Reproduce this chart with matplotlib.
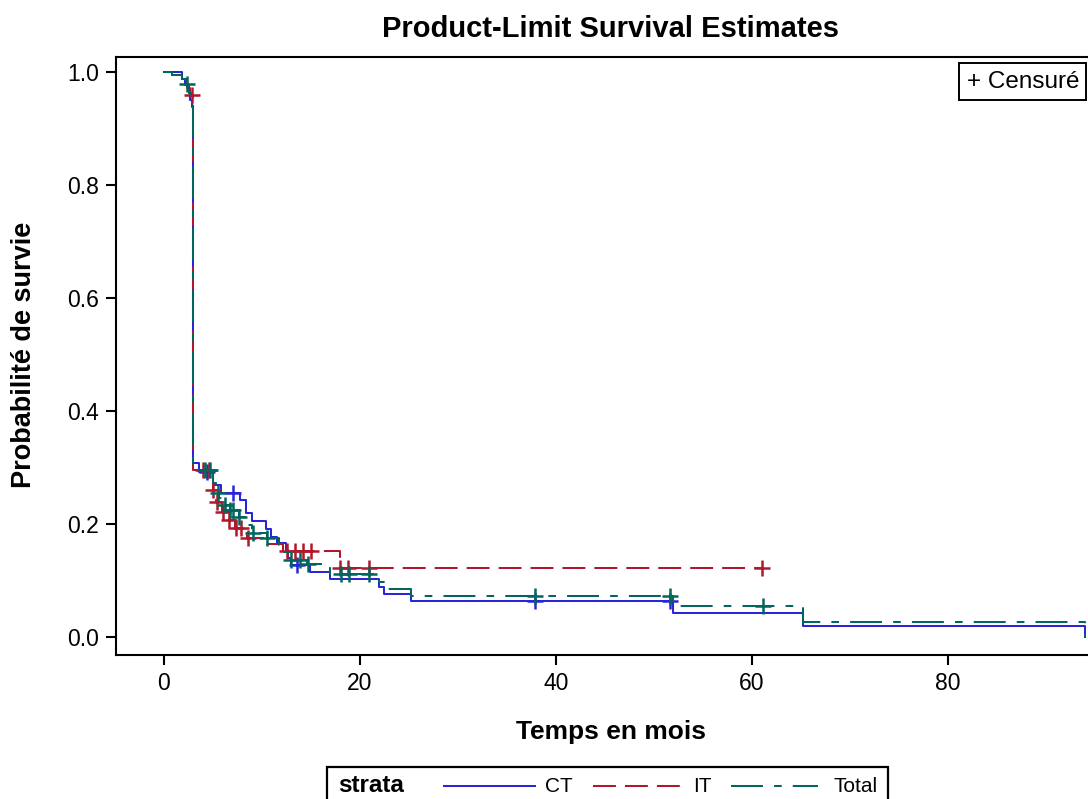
import numpy as np
import matplotlib
matplotlib.use("Agg")
import matplotlib.pyplot as plt
from matplotlib.lines import Line2D
from matplotlib.patches import Rectangle

plt.rcParams['font.family'] = ['Liberation Sans', 'DejaVu Sans']
plt.rcParams['lines.scale_dashes'] = False

# ---------------- data ----------------
ct_times = [0, 1.85, 2.1, 2.5, 2.65, 2.85, 2.95, 3.6, 5.0, 5.8, 7.8, 8.4, 9.0, 10.4, 10.9,
            11.5, 12.4, 12.7, 13.0, 14.9, 16.9, 21.9, 22.4, 25.2, 51.9, 65.2, 94.0]
ct_surv = [1.0, 0.988, 0.977, 0.963, 0.95, 0.938, 0.308, 0.292, 0.269, 0.255, 0.242, 0.219,
           0.205, 0.191, 0.177, 0.166, 0.154, 0.14, 0.127, 0.115, 0.102, 0.089, 0.076, 0.064,
           0.0425, 0.0195, 0.0]
ct_end = 94.0
ct_censor = [4.4, 7.0, 13.6, 37.9, 51.6]

it_times = [0, 0.85, 1.85, 2.3, 2.7, 2.95, 5.0, 5.3, 5.9, 6.6, 7.2, 8.5, 10.5, 12.1, 18.0]
it_surv = [1.0, 0.994, 0.985, 0.972, 0.96, 0.296, 0.26, 0.239, 0.221, 0.207, 0.193, 0.175,
           0.165, 0.152, 0.122]
it_end = 61.0
it_censor = [2.9, 4.0, 4.6, 5.0, 5.4, 6.0, 6.6, 7.3, 7.9, 8.6, 12.5, 13.4, 14.2, 15.0,
             18.0, 18.8, 20.9, 61.0]

tot_times = [0, 0.85, 1.85, 2.2, 2.45, 2.6, 2.8, 2.95, 5.0, 5.3, 5.6, 6.2, 6.7, 7.7, 8.3,
             9.0, 10.5, 11.7, 12.1, 12.9, 14.6, 16.9, 21.9, 22.4, 25.2, 51.9, 65.2, 94.0]
tot_surv = [1.0, 0.995, 0.988, 0.978, 0.974, 0.963, 0.952, 0.295, 0.272, 0.255, 0.246, 0.234,
            0.225, 0.212, 0.198, 0.184, 0.175, 0.163, 0.15, 0.136, 0.129, 0.112, 0.097, 0.085,
            0.0725, 0.055, 0.027, 0.0]
tot_end = 94.0
tot_censor = [2.35, 4.2, 4.7, 5.5, 6.2, 6.7, 7.0, 7.7, 9.1, 10.5, 13.0, 13.9, 14.7,
              18.1, 18.9, 20.9, 37.9, 51.6, 61.1]

x_ticks = [0, 20, 40, 60, 80]
y_ticks = [0.0, 0.2, 0.4, 0.6, 0.8, 1.0]
strata_names = ['CT', 'IT', 'Total']

# ---------------- styles ----------------
c_ct = '#2A25D9'
c_it = '#B2182B'
c_tot = '#01665E'
ls_ct = '-'
ls_it = (0, (16.5, 6.5))
ls_tot = (0, (23, 8, 5.5, 8))
lw = 1.45

W, H = 1088, 799
fig = plt.figure(figsize=(W / 100, H / 100), dpi=100)
ax_l, ax_r, ax_t, ax_b = 116, 1103, 57, 655
ax = fig.add_axes([ax_l / W, 1 - ax_b / H, (ax_r - ax_l) / W, (ax_b - ax_t) / H])


def draw(times, surv, end, censor, color, ls):
    xs = list(times) + [end]
    ys = list(surv) + [surv[-1]]
    ax.step(xs, ys, where='post', color=color, linestyle=ls, lw=lw, clip_on=False)
    t = np.asarray(times)
    s = np.asarray(surv)
    idx = np.searchsorted(t, np.asarray(censor), side='right') - 1
    ax.plot(censor, s[idx], linestyle='none', marker='+', markersize=12,
            markeredgewidth=1.8, color=color, clip_on=False)


draw(ct_times, ct_surv, ct_end, ct_censor, c_ct, ls_ct)
draw(it_times, it_surv, it_end, it_censor, c_it, ls_it)
draw(tot_times, tot_surv, tot_end, tot_censor, c_tot, ls_tot)

ax.set_xlim((ax_l - 164) / 9.8, (ax_r - 164) / 9.8)
ax.set_ylim((637 - ax_b) / 565, (637 - ax_t) / 565)
ax.set_xticks(x_ticks)
ax.set_yticks(y_ticks)
ax.set_yticklabels([f'{v:.1f}' for v in y_ticks])
ax.tick_params(direction='out', length=7, width=1.5, labelsize=16.5, pad=5)
for sp in ax.spines.values():
    sp.set_linewidth(1.5)

fig.text(610 / W, 1 - 29 / H, 'Product-Limit Survival Estimates', ha='center', va='center',
         fontsize=21, fontweight='bold')
fig.text(611 / W, 1 - 732 / H, 'Temps en mois', ha='center', va='center',
         fontsize=19, fontweight='bold')
fig.text(24 / W, 1 - 355 / H, 'Probabilité de survie', ha='center', va='center',
         rotation=90, fontsize=19.5, fontweight='bold')

# Censored legend box
fig.add_artist(Rectangle((959 / W, 1 - 100 / H), (1086 - 959) / W, 37 / H,
                         transform=fig.transFigure, fill=False, lw=1.4, ec='black'))
fig.text(967 / W, 1 - 82 / H, '+ Censuré', ha='left', va='center', fontsize=17.5)

# Bottom strata legend
fig.add_artist(Rectangle((327 / W, -0.05), (888 - 327) / W, 0.05 + (799 - 767) / H,
                         transform=fig.transFigure, fill=False, lw=1.6, ec='black',
                         clip_on=False))
ly = 1 - 786 / H
fig.text(338 / W, ly, 'strata', ha='left', va='center', fontsize=17.5, fontweight='bold')
items = [(444, 535, 545, c_ct, ls_ct), (593, 680, 693, c_it, ls_it), (731, 818, 833, c_tot, ls_tot)]
for name, (x0, x1, xt, col, ls) in zip(strata_names, items):
    fig.add_artist(Line2D([x0 / W, x1 / W], [ly, ly], transform=fig.transFigure,
                          color=col, linestyle=ls, lw=lw))
    fig.text(xt / W, ly, name, ha='left', va='center', fontsize=15)

fig.savefig('out.png', dpi=100)
